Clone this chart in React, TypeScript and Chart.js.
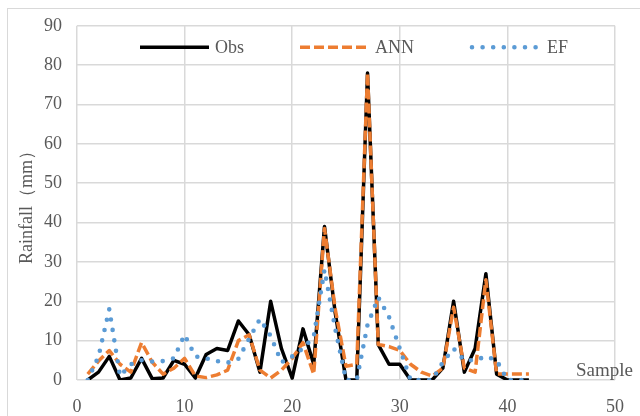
import { useEffect, useRef } from 'react';
import { Chart, registerables } from 'chart.js';

Chart.register(...registerables);

// ---- data ----
const samples = [1, 2, 3, 4, 5, 6, 7, 8, 9, 10, 11, 12, 13, 14, 15, 16, 17, 18, 19, 20, 21, 22, 23, 24, 25, 26, 27, 28, 29, 30, 31, 32, 33, 34, 35, 36, 37, 38, 39, 40, 41, 42];
const obs = [0, 2, 6, 0, 0.5, 5.5, 0.3, 0.5, 5, 4, 0.5, 6.5, 8, 7.5, 15, 11.5, 2, 20, 8, 0.5, 13, 4, 39, 17, 0, 0, 78, 9, 4, 4, 0, 0, 0, 3, 20, 2, 8, 27, 1.5, 0, 0, 0];
const ann = [1.5, 4.8, 7.5, 4, 2, 9.5, 4.5, 1.5, 3, 5.5, 1, 0.6, 1.3, 2.5, 10, 11.5, 2.5, 0.5, 2.5, 5.5, 9.5, 1.5, 38.5, 18, 3.5, 4, 78, 9, 8.5, 7.5, 4, 2, 1, 3, 18.5, 3, 2, 25.5, 1.5, 1.5, 1.5, 1.5];
const ef = [0, 6, 18, 1, 4, 5, 4.7, 4.8, 5.5, 11.5, 6, 5.5, 4.8, 4.4, 5.4, 10.5, 15.5, 11.2, 4.5, 6, 8, 11, 28, 13, 0, 0, 14, 21, 16, 8, 0, 0, 0, 4.5, 8, 5, 5, 6, 5, 0, 0, 0];
const seriesNames = ['Obs', 'ANN', 'EF'];
const xTicks = [0, 10, 20, 30, 40, 50];
const yTicks = [0, 10, 20, 30, 40, 50, 60, 70, 80, 90];
const yTitle = 'Rainfall（mm）';
const xTitle = 'Sample';

const FONT = '"Liberation Serif", "Times New Roman", serif';
const TEXT = '#595959';
const GRID = '#d9d9d9';
const legendOffsets = [63, 223, 395];

const toPoints = (vals: number[]) => samples.map((s, i) => ({ x: s, y: vals[i] }));

const overlayPlugin = {
  id: 'overlay',
  beforeDraw(chart: any) {
    const ctx = chart.ctx;
    ctx.save();
    ctx.fillStyle = '#ffffff';
    ctx.fillRect(0, 0, chart.width, chart.height);
    ctx.strokeStyle = GRID;
    ctx.lineWidth = 1;
    ctx.strokeRect(7.5, 8.5, chart.width + 20, chart.height + 20);
    ctx.restore();
  },
  afterDatasetsDraw(chart: any) {
    const { ctx, chartArea } = chart;
    ctx.save();
    const y = chartArea.top + 21.5;
    [0, 1, 2].forEach((i) => {
      const ds = chart.data.datasets[i];
      const x0 = chartArea.left + legendOffsets[i];
      ctx.beginPath();
      ctx.setLineDash(ds.borderDash || []);
      ctx.lineCap = ds.borderCapStyle || 'butt';
      ctx.lineWidth = ds.borderWidth;
      ctx.strokeStyle = ds.borderColor;
      ctx.moveTo(x0, y);
      ctx.lineTo(x0 + 69, y);
      ctx.stroke();
      ctx.setLineDash([]);
      ctx.fillStyle = TEXT;
      ctx.font = `18px ${FONT}`;
      ctx.textBaseline = 'middle';
      ctx.textAlign = 'left';
      ctx.fillText(ds.label, x0 + 75, y + 1);
    });
    ctx.fillStyle = TEXT;
    ctx.font = `19px ${FONT}`;
    ctx.textAlign = 'right';
    ctx.textBaseline = 'middle';
    ctx.fillText(xTitle, chartArea.right + 18, chartArea.bottom - 9);
    ctx.restore();
  },
};

export default function App() {
  const ref = useRef<HTMLCanvasElement | null>(null);

  useEffect(() => {
    if (!ref.current) return;
    const chart = new Chart(ref.current, {
      type: 'line',
      data: {
        datasets: [
          {
            label: seriesNames[0],
            data: toPoints(obs),
            borderColor: '#000000',
            borderWidth: 3.5,
            borderJoinStyle: 'round',
            pointRadius: 0,
            tension: 0,
            order: 2,
          },
          {
            label: seriesNames[1],
            data: toPoints(ann),
            borderColor: '#ED7D31',
            borderWidth: 3.5,
            borderDash: [10, 4],
            borderJoinStyle: 'round',
            pointRadius: 0,
            tension: 0,
            order: 1,
          },
          {
            label: seriesNames[2],
            data: toPoints(ef),
            borderColor: '#5B9BD5',
            borderWidth: 4.6,
            borderDash: [0, 10.6],
            borderCapStyle: 'round',
            borderJoinStyle: 'round',
            pointRadius: 0,
            tension: 0,
            order: 0,
          },
        ] as any,
      },
      options: {
        responsive: false,
        animation: false,
        devicePixelRatio: 1,
        layout: { padding: { top: 25.7, right: 22, left: 0, bottom: 0 } },
        plugins: { legend: { display: false }, tooltip: { enabled: false } },
        scales: {
          x: {
            type: 'linear',
            min: 0,
            max: 50,
            afterBuildTicks: (axis: any) => {
              axis.ticks = xTicks.map((v) => ({ value: v }));
            },
            afterFit: (axis: any) => {
              axis.height = 36;
            },
            grid: { color: GRID, lineWidth: 1.5, drawTicks: false },
            border: { display: false },
            ticks: { padding: 16, color: TEXT, font: { family: FONT, size: 18 } },
          },
          y: {
            type: 'linear',
            min: 0,
            max: 90,
            afterBuildTicks: (axis: any) => {
              axis.ticks = yTicks.map((v) => ({ value: v }));
            },
            afterFit: (axis: any) => {
              axis.width = 77;
            },
            grid: { color: GRID, lineWidth: 1.5, drawTicks: false },
            border: { display: false },
            ticks: { padding: 15, color: TEXT, font: { family: FONT, size: 18 } },
            title: {
              display: true,
              text: yTitle,
              color: TEXT,
              font: { family: FONT, size: 18 },
              padding: { top: 16, bottom: 0 },
            },
          },
        },
      } as any,
      plugins: [overlayPlugin],
    });
    return () => chart.destroy();
  }, []);

  return (
    <div style={{ position: 'absolute', left: 0, top: 0, width: 640, height: 416 }}>
      <canvas ref={ref} width={640} height={416} />
    </div>
  );
}
